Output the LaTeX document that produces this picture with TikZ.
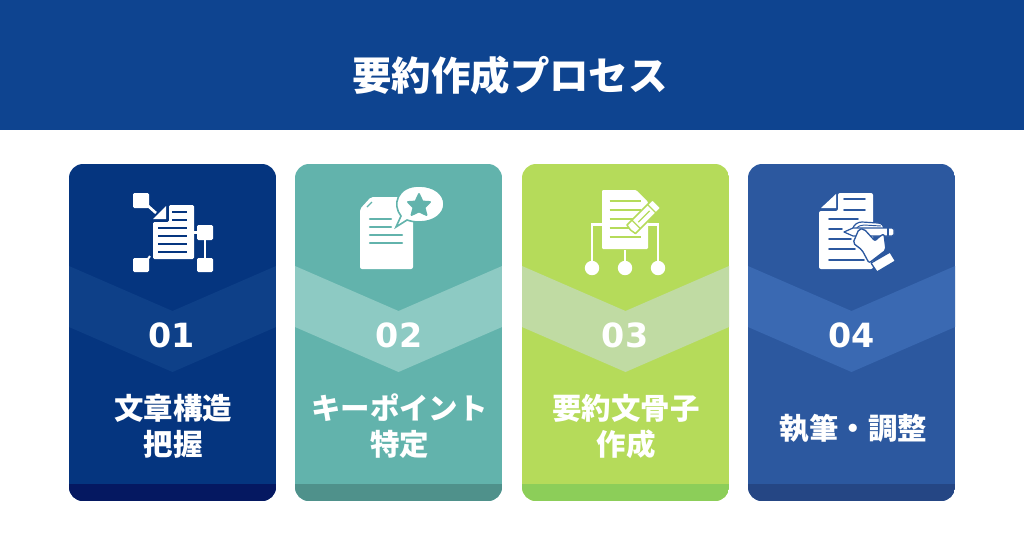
\documentclass[tikz,border=0pt]{standalone}
\usepackage{fontspec}
\setmainfont{Noto Sans CJK JP}
\newfontfamily\numfont{DejaVu Sans}
\definecolor{hdr}{HTML}{0E4490}
\definecolor{aA}{HTML}{05357F}\definecolor{aB}{HTML}{0E4088}\definecolor{aC}{HTML}{051861}
\definecolor{bA}{HTML}{62B3AC}\definecolor{bB}{HTML}{8DCAC3}\definecolor{bC}{HTML}{4F918B}
\definecolor{cA}{HTML}{B5DB5A}\definecolor{cB}{HTML}{C0DBA3}\definecolor{cC}{HTML}{8CCE59}
\definecolor{dA}{HTML}{2C589F}\definecolor{dB}{HTML}{3A69B2}\definecolor{dC}{HTML}{254684}
\tikzset{
  titletext/.style={text=white,font=\bfseries\fontsize{29.6}{36}\selectfont,inner sep=0},
  numtext/.style={text=white,font=\numfont\bfseries\fontsize{25}{30}\selectfont,inner sep=0},
  labeltext/.style={text=white,font=\bfseries\fontsize{22.1}{27}\selectfont,align=center,inner sep=0},
  ic/.style={fill=white,draw=none},
  wline/.style={draw=white,line width=1.6pt},
}
\newcommand{\card}[4]{%
  \begin{scope}[shift={(#1,0)}]
    \clip[rounded corners=10.5pt] (0,164) rectangle (207,501);
    \fill[#2] (0,164) rectangle (207,501);
    \fill[#3] (0,266) -- (103.5,311) -- (207,266) -- (207,327) -- (103.5,372) -- (0,327) -- cycle;
    \fill[#4] (0,484) rectangle (207,501);
  \end{scope}}
\begin{document}
\begin{tikzpicture}[x=0.75pt,y=-0.75pt]
\useasboundingbox (0,0) rectangle (1024,544);
\fill[white] (0,0) rectangle (1024,544);
\fill[hdr] (0,0) rectangle (1024,130);
\node[titletext] (title) at (510,75.5) {要約作成プロセス};
\card{69}{aA}{aB}{aC}
\card{295}{bA}{bB}{bC}
\card{522}{cA}{cB}{cC}
\card{748}{dA}{dB}{dC}
\node[numtext] (n1) at (171.5,335) {01};
\node[numtext] (n2) at (399,335) {02};
\node[numtext] (n3) at (625,335) {03};
\node[numtext] (n4) at (851.5,335) {04};
\node[labeltext] (l1) at (173,426) {文章構造\\把握};
\node[labeltext] (l2) at (399.5,426) {キーポイント\\特定};
\node[labeltext] (l3) at (626,426) {要約文骨子\\作成};
\node[labeltext] (l4) at (853.5,429) {執筆・調整};
% icon 1
\fill[ic,rounded corners=1pt] (133,193) rectangle (149,208);
\fill[ic,rounded corners=1pt] (133,258) rectangle (149,272);
\fill[ic,rounded corners=1pt] (197,225) rectangle (213,240);
\fill[ic,rounded corners=1pt] (197,258) rectangle (213,272);
\draw[white,line width=2pt] (147,205) -- (156,213);
\draw[white,line width=1.8pt] (205,239) -- (205,259);
\draw[white,line width=1.5pt] (148,259) -- (150,256);
\fill[ic] (194,231) rectangle (198,234);
\fill[ic] (153,219) -- (166,206) -- (166,219) -- cycle;
\fill[ic,rounded corners=1pt] (169,205) -- (194,205) -- (194,259) -- (153,259) -- (153,222) -- (169,222) -- cycle;
\foreach \y in {212,220}{\draw[aA,line width=1.3pt] (172,\y) -- (187,\y);}
\foreach \y in {228,236,244,252}{\draw[aA,line width=1.3pt] (158,\y) -- (187,\y);}
% icon 2
\fill[ic,rounded corners=1.5pt] (360,209) -- (371,197) -- (413,197) -- (413,269) -- (360,269) -- cycle;
\draw[bA,line width=0.9pt] (367,207) -- (372,202);
\foreach \y/\e in {219/391,227/391,235/402,243/402}{\draw[bA,line width=1.7pt,line cap=round] (370,\y) -- (\e,\y);}
\path[fill=white,draw=bA,line width=1.2pt] (396,227) -- (401,216) .. controls (392,205) and (397,186) .. (419,186) .. controls (434,186) and (444,194) .. (444,204) .. controls (444,214) and (434,222) .. (419,222) .. controls (414,222) and (410,221) .. (407,220) -- cycle;
\fill[bA,draw=bA,line width=1.4pt,line join=round] (419,194) -- (422.5,201.5) -- (430,202) -- (424.5,207.5) -- (426.5,215) -- (419,211.5) -- (411.5,215) -- (413.5,207.5) -- (408,202) -- (415.5,201.5) -- cycle;
% icon 3
\draw[wline] (592,268) -- (592,224.5) -- (605,224.5);
\draw[wline] (658,268) -- (658,224.5) -- (645,224.5);
\draw[wline] (625,250) -- (625,268);
\foreach \x in {592,625,658}{\fill[ic] (\x,268) circle (7.2);}
\fill[ic,rounded corners=0.8pt] (602,190) -- (636,190) -- (648,202) -- (648,249) -- (602,249) -- cycle;
\foreach \y in {201,210,219,228,237}{\draw[cA,line width=1.2pt] (609.5,\y) -- (641,\y);}
\begin{scope}[shift={(630.5,230)},rotate=45]
  \path[fill=white,draw=cA,line width=1.1pt,line join=round] (0,0) -- (1,-6) -- (9,-6) -- (36,-6) -- (37,-5) -- (37,5) -- (36,6) -- (9,6) -- (1,6) -- cycle;
  \draw[cA,line width=0.9pt] (11,0) -- (27,0);
  \draw[cA,line width=0.9pt] (30,-6) -- (30,6);
  \draw[cA,line width=0.9pt] (8,-6) -- (8,6);
\end{scope}
% icon 4
\fill[ic] (821,208) -- (836,194) -- (836,208) -- cycle;
\fill[ic,rounded corners=1.5pt] (838,193) -- (873,193) -- (873,269) -- (819,269) -- (819,211) -- (838,211) -- cycle;
\foreach \y in {199,210}{\draw[dA,line width=1.3pt,line cap=round] (844,\y) -- (865,\y);}
\foreach \y/\e in {219/858,229/842,239/851,249/855,260/864}{\draw[dA,line width=1.3pt,line cap=round] (829,\y) -- (\e,\y);}
% fingers above the pen
\path[fill=white,draw=dA,line width=0.9pt,line join=round] (852,230) .. controls (854,224) and (858,222) .. (862,222) -- (878,223) .. controls (882,223) and (884,226) .. (884,230) -- cycle;
\draw[dA,line width=0.7pt] (856,229) .. controls (858,226) and (861,225) .. (864,225) -- (881,226);
% pen
\path[fill=white,draw=dA,line width=0.9pt,line join=round] (844,232) -- (853,228) -- (892,228) -- (894,229.5) -- (894,234.5) -- (892,236) -- (853,236) -- cycle;
\draw[dA,line width=0.8pt] (888,228) -- (888,236);
% hand
\path[fill=white,draw=dA,line width=1pt,line join=round,rounded corners=1.5pt] (859,229) -- (864,229) -- (875,241) -- (880,236) -- (884,234) -- (886,250) -- (869,263) -- (862,250) -- (853,243) -- (856,236) -- cycle;
% cuff
\path[fill=white,draw=dA,line width=1pt,rounded corners=0.5pt] (871,263) -- (890,252) -- (895.5,261) -- (877,272) -- cycle;
\end{tikzpicture}
\end{document}
